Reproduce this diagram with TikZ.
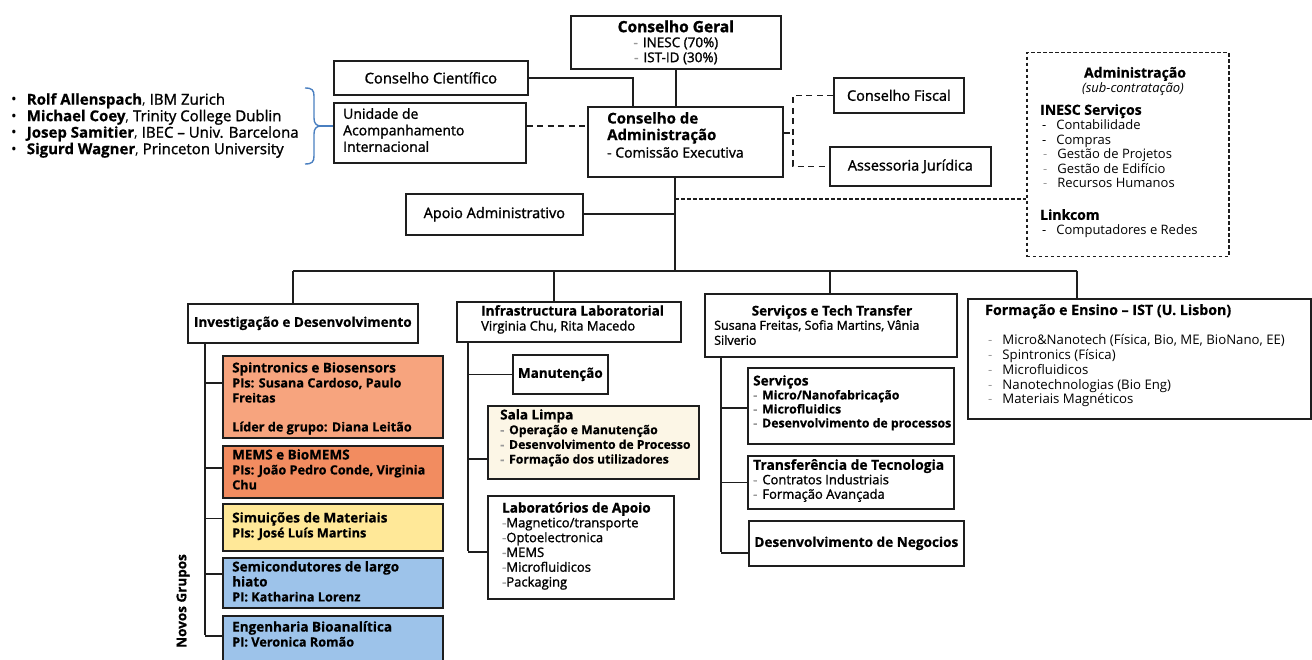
\documentclass[tikz,border=0pt]{standalone}
\usepackage{fontspec}
\setmainfont{Open Sans}[BoldFeatures={FakeBold=0.6}]
\newfontfamily\medf[FakeBold=1.4]{Open Sans}
\definecolor{salA}{HTML}{F7A47E}
\definecolor{salB}{HTML}{F28C60}
\definecolor{yelA}{HTML}{FFE898}
\definecolor{bluA}{HTML}{9DC3EA}
\definecolor{creA}{HTML}{FCF6E6}
\definecolor{brc}{HTML}{4A7FC0}
\definecolor{lnc}{HTML}{1E1E1E}
\newcommand\myT{\fontsize{14.5}{16}\selectfont}
\newcommand\myS{\fontsize{12.7}{15}\selectfont}
\newcommand\myH{\fontsize{13.5}{15}\selectfont}
\newcommand\myN{\fontsize{15}{16.5}\selectfont}
\newcommand\gb{\textcolor{black!40}{-}\hspace{5pt}}
\newcommand\gbi{\hspace*{3pt}\textcolor{black!40}{-}\hspace{10pt}}
\begin{document}
\begin{tikzpicture}[x=1pt,y=-1pt,
  ln/.style={draw=lnc,line width=1.7pt},
  bx/.style={draw=lnc,line width=1.7pt,anchor=north west,inner sep=0pt,align=center},
  tx/.style={anchor=north west,align=left,inner sep=0pt},
  dsh/.style={draw=lnc,line width=1.6pt,dash pattern=on 6pt off 4.5pt},
  dts/.style={draw=lnc,line width=1.5pt,dash pattern=on 3.5pt off 2.5pt},
  brl/.style={draw=brc,line width=1.4pt}]
\useasboundingbox (0,0) rectangle (1312,660);

% external advisers
\node[tx,font=\myN] (names) at (11,93) {•\hspace{10pt}\textbf{Rolf Allenspach}, {\medf IBM Zurich}\\
•\hspace{10pt}\textbf{Michael Coey}, {\medf Trinity College Dublin}\\
•\hspace{10pt}\textbf{Josep Samitier}, {\medf IBEC – Univ. Barcelona}\\
•\hspace{10pt}\textbf{Sigurd Wagner}, {\medf Princeton University}};

% top boxes
\node[bx,minimum width=210pt,minimum height=53pt,font=\fontsize{13.5}{15}\selectfont\medf] (cg) at (570,15)
  {{\fontsize{15.5}{16}\selectfont\bfseries Conselho Geral}\\ \gb INESC (70\%)\\ \gb IST-ID (30\%)};
\node[bx,minimum width=194pt,minimum height=34pt,font=\fontsize{14.8}{16}\selectfont\medf] (cc) at (333,60) {Conselho Científico};
\node[bx,minimum width=192pt,minimum height=60pt] (un) at (333,102) {};
\node[tx,font=\fontsize{14}{16.5}\selectfont\medf] (unt) at (343,108) {Unidade de\\Acompanhamento\\Internacional};
\node[bx,minimum width=195pt,minimum height=70pt] (ca) at (587,106) {};
\node[tx,font=\fontsize{15}{16.5}\selectfont] (cat) at (607,112) {\textbf{Conselho de}\\\textbf{Administração}\\[1pt]{\fontsize{14}{16}\selectfont\medf - Comissão Executiva}};
\node[bx,minimum width=130pt,minimum height=35pt,font=\myT\medf] (cf) at (833,77) {Conselho Fiscal};
\node[bx,minimum width=161pt,minimum height=39pt,font=\myT\medf] (aj) at (829,146) {Assessoria Jurídica};
\node[bx,dts,minimum width=202pt,minimum height=204pt] (adm) at (1026,52) {};
\node[font=\fontsize{14}{15}\selectfont\bfseries,inner sep=0pt] (admh) at (1135,74) {Administração};
\node[font=\fontsize{13}{15}\selectfont\itshape,inner sep=0pt] (admi) at (1133,89) {(sub-contratação)};
\node[tx,font=\fontsize{13}{14.6}\selectfont] (adma) at (1040,104) {{\fontsize{14}{14.6}\selectfont\textbf{INESC Serviços}}\\
\hspace*{2pt}-\hspace{10pt}Contabilidade\\
\hspace*{2pt}-\hspace{10pt}Compras\\
\gbi Gestão de Projetos\\
\gbi Gestão de Edifício\\
\gbi Recursos Humanos};
\node[tx,font=\fontsize{13}{14.6}\selectfont] (admb) at (1040,209) {{\fontsize{14}{14.6}\selectfont\textbf{Linkcom}}\\
\hspace*{2pt}-\hspace{10pt}Computadores e Redes};
\node[bx,minimum width=177pt,minimum height=41pt,font=\myT\medf] (aa) at (405,193) {Apoio Administrativo};

% second level
\node[bx,minimum width=230pt,minimum height=39pt,font=\fontsize{13.5}{16}\selectfont\bfseries] (id) at (187,303) {Investigação e Desenvolvimento};
\node[bx,minimum width=224pt,minimum height=40pt] (il) at (456,301) {};
\node[tx,font=\fontsize{13}{15}\selectfont] (ilt) at (481,305) {{\fontsize{13.5}{15}\selectfont\textbf{Infrastructura Laboratorial}}\\{\medf Virginia Chu, Rita Macedo}};
\node[bx,minimum width=252pt,minimum height=63pt] (st) at (704,293) {};
\node[font=\fontsize{13.5}{15}\selectfont\bfseries,inner sep=0pt] (sth) at (832,312) {Serviços e Tech Transfer};
\node[tx,font=\fontsize{12.5}{15}\selectfont\medf] (stt) at (714,320) {Susana Freitas, Sofia Martins, Vânia\\Silverio};
\node[bx,minimum width=343pt,minimum height=120pt] (fe) at (967,298) {};
\node[tx,font=\fontsize{13.2}{14.8}\selectfont] (fet) at (985,304) {{\fontsize{14.2}{14.8}\selectfont\textbf{Formação e Ensino – IST (U. Lisbon)}}\\[15pt]
\gbi Micro\&Nanotech (Física, Bio, ME, BioNano, EE)\\
\gbi Spintronics (Física)\\
\gbi Microfluidicos\\
\gbi Nanotechnologias (Bio Eng)\\
\gbi Materiais Magnéticos};

% research groups
\node[bx,fill=salA,minimum width=220pt,minimum height=82pt] (sp1) at (222,355) {};
\node[tx,font=\myS\bfseries] (sp1t) at (232,362) {{\myH Spintronics e Biosensors}\\PIs: Susana Cardoso, Paulo\\Freitas\\[14pt]Líder de grupo: Diana Leitão};
\node[bx,fill=salB,line width=2.3pt,minimum width=220pt,minimum height=52pt] (mems) at (222,445) {};
\node[tx,font=\myS\bfseries] (memst) at (232,449) {{\myH MEMS e BioMEMS}\\PIs: João Pedro Conde, Virginia\\Chu};
\node[bx,fill=yelA,minimum width=220pt,minimum height=47pt] (sim) at (222,503) {};
\node[tx,font=\myS\bfseries] (simt) at (232,512) {{\myH Simuições de Materiais}\\PIs: José Luís Martins};
\node[bx,fill=bluA,minimum width=220pt,minimum height=50pt] (semi) at (222,557) {};
\node[tx,font=\myS\bfseries] (semit) at (232,561) {{\myH Semicondutores de largo}\\{\myH hiato}\\PI: Katharina Lorenz};
\node[bx,fill=bluA,minimum width=220pt,minimum height=50pt] (eng) at (222,615) {};
\node[tx,font=\myS\bfseries] (engt) at (232,621) {{\myH Engenharia Bioanalítica}\\PI: Veronica Romão};
\node[rotate=90,font=\fontsize{13.5}{14}\selectfont\bfseries,inner sep=0pt] (ng) at (183,601) {Novos Grupos};

% lab infrastructure
\node[bx,minimum width=95pt,minimum height=39pt,font=\myH\bfseries] (mt) at (512,354) {Manutenção};
\node[bx,fill=creA,minimum width=211pt,minimum height=73pt] (sl) at (487,405) {};
\node[tx,font=\fontsize{12.2}{14.7}\selectfont\bfseries] (slt) at (500,409) {{\myH Sala Limpa}\\\gb Operação e Manutenção\\\gb Desenvolvimento de Processo\\\gb Formação dos utilizadores};
\node[bx,minimum width=186pt,minimum height=103pt] (la) at (487,495) {};
\node[tx,font=\fontsize{13}{14.8}\selectfont\medf] (lat) at (502,502) {{\myH\bfseries Laboratórios de Apoio}\\\textcolor{black!40}{-}Magnetico/transporte\\\textcolor{black!40}{-}Optoelectronica\\\textcolor{black!40}{-}MEMS\\\textcolor{black!40}{-}Microfluidicos\\\textcolor{black!40}{-}Packaging};

% services
\node[bx,minimum width=206pt,minimum height=76pt] (sv) at (747,367) {};
\node[tx,font=\fontsize{12.3}{14}\selectfont\bfseries] (svt) at (753,375) {{\myH Serviços}\\\gb Micro/Nanofabricação\\\gb Microfluidics\\\gb Desenvolvimento de processos};
\node[bx,minimum width=206pt,minimum height=53pt] (tt) at (747,455) {};
\node[tx,font=\fontsize{13}{14.5}\selectfont] (ttt) at (753,459) {{\fontsize{13.8}{14.5}\selectfont\textbf{Transferência de Tecnologia}}\\{\medf\gb Contratos Industriais}\\{\medf\gb Formação Avançada}};
\node[bx,minimum width=215pt,minimum height=45pt,font=\fontsize{13.6}{15}\selectfont\bfseries] (dn) at (748,520) {Desenvolvimento de Negocios};

% connectors top
\draw[ln] (cg.south) -- (cg.south |- ca.north);
\draw[ln] (cc.east) -| ([xshift=46pt]ca.north west);
\draw[dsh] (un.east |- 0,126) -- (ca.west |- 0,126);
\coordinate (jr) at (793,133);
\draw[dsh] (ca.east |- jr) -- (jr);
\draw[dsh] (cf.west) -| (jr) |- (aj.west);
% blue brace
\coordinate (bt) at (321,126);
\draw[brl] (305,88) .. controls (312,88) and (314,90) .. (314,96) -- (314,118)
  .. controls (314,123) and (316,126) .. (bt)
  .. controls (316,126) and (314,129) .. (314,134) -- (314,156)
  .. controls (314,162) and (312,164) .. (305,164);
\draw[brl] (bt) -- (un.west |- bt);

\coordinate (bz) at (675,271);
\coordinate (b1) at (293,271);
\coordinate (b2) at (554,271);
\coordinate (b3) at (830,271);
\coordinate (b4) at (1077,271);
\draw[ln] (bz |- ca.south) -- (bz);
\draw[ln] (aa.east) -- (aa.east -| bz);
\coordinate (dj) at (675,199);
\draw[dts] (dj) -- (dj -| adm.west);
\draw[ln] (b1) -- (b4);
\draw[ln] (b1) -- (b1 |- id.north);
\draw[ln] (b2) -- (b2 |- il.north);
\draw[ln] (b3) -- (b3 |- st.north);
\draw[ln] (b4) -- (b4 |- fe.north);

% left trunk
\coordinate (lv) at (205,0);
\draw[ln] (lv |- id.south) -- (lv |- 0,635);
\draw[ln] ([yshift=14pt]sp1.west) -- ++(-17,0);
\draw[ln] ([yshift=4pt]mems.west) -- ++(-17,0);
\draw[ln] ([yshift=9pt]sim.west) -- ++(-17,0);
\draw[ln] ([yshift=9pt]semi.west) -- ++(-17,0);
\draw[ln] ([yshift=5pt]eng.west) -- ++(-17,0);

% middle trunk
\coordinate (mv) at (468,0);
\draw[ln] (mv |- il.south) -- (mv |- 0,551);
\draw[ln] (mt.west) -- ++(-44,0);
\draw[ln] ([yshift=-16.5pt]sl.west) -- ++(-19,0);
\draw[ln] ([yshift=-4.5pt]la.west) -- ++(-19,0);

% right trunk
\coordinate (rv) at (721,0);
\draw[ln] (rv |- st.south) -- (rv |- 0,552);
\draw[ln] ([yshift=-2pt]sv.west) -- ++(-26,0);
\draw[ln] (tt.west) -- ++(-26,0);
\draw[ln] ([yshift=-9.5pt]dn.west) -- ++(-27,0);
\end{tikzpicture}
\end{document}
